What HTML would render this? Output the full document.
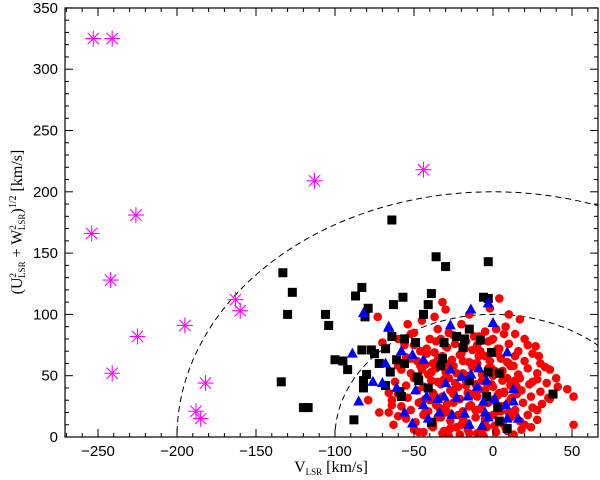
<!DOCTYPE html>
<html><head><meta charset="utf-8"><style>
html,body{margin:0;padding:0;background:#fff;width:600px;height:480px;overflow:hidden;position:relative;}
svg{display:block;position:absolute;left:0;top:0;}
.tk{font-family:"Liberation Sans",sans-serif;font-size:15px;fill:#000;}
.tt{font-family:"Liberation Serif",serif;font-size:16px;fill:#000;}
</style></head><body>
<svg id="chart" width="600" height="480" viewBox="0 0 600 480" xmlns="http://www.w3.org/2000/svg" overflow="hidden">
<defs><clipPath id="pc"><rect x="65" y="8" width="533" height="429"/></clipPath></defs>
<g id="plot" clip-path="url(#pc)"></g>
<rect x="65" y="8" width="533" height="429" fill="none" stroke="#000" stroke-width="1.2"/>
<g id="axes"></g>
<text class="tt" x="331" y="472" text-anchor="middle">V<tspan font-size="9" dy="3">LSR</tspan><tspan dy="-3"> [km/s]</tspan></text>
<text class="tt" transform="translate(22,222) rotate(-90)" text-anchor="middle">(U<tspan font-size="9" dy="-6">2</tspan><tspan font-size="9" dx="-5" dy="9">LSR</tspan><tspan dy="-3"> + W</tspan><tspan font-size="9" dy="-6">2</tspan><tspan font-size="9" dx="-5" dy="9">LSR</tspan><tspan dy="-3">)</tspan><tspan font-size="10" dy="-6">1/2</tspan><tspan dy="6"> [km/s]</tspan></text>
</svg>
<script>
const xTicks=[-250,-200,-150,-100,-50,0,50];
const yTicks=[0,50,100,150,200,250,300,350];
const circleRadii=[100,200];
const haloV=[-253,-241,-226,-254,-242,-225,-241,-195,-163,-160,-182,-188,-185,-113,-44];
const haloY=[325,325,181,166,128,82,52,91,112,103,44,21,15,209,218];
const thickV=[-64,-36,-30,-3,-83,-87,-79,-63,-57,-39,-41,-44,-6,-3,-106,-104,-81,-15,-8,-64,-56,-49,-23,-18,-31,-19,-1,-83,-77,-68,-75,-100,-95,-92,-72,-61,-56,-32,-33,-80,-65,-48,-47,-82,-82,-68,-41,-59,-58,-15,-3,4,-4,38,3,4,9,-88,-120,-117,-39,-133,-127,-130,-134];
const thickY=[177,147,139,143,122,115,105,108,114,117,108,100,114,113,100,91,98,88,79,82,80,77,82,80,77,73,69,71,71,72,68,63,62,55,60,63,60,64,58,51,53,49,46,46,40,42,40,37,33,46,53,52,33,35,24,13,7,14,24,24,12,134,118,100,45];
const transV=[-82,-14,-3,-66,-27,0,-89,-58,-51,-44,9,-68,-27,-14,-9,-4,-20,-76,-70,-61,-49,-30,-10,13,-85,-42,-35,-31,-23,-16,-6,1,8,13,-56,-44,-34,-26,-18,-5,-3,-41,-51,-15,-7,9,16,-66];
const transY=[101,104,109,90,91,93,68,70,67,63,69,60,55,51,56,46,49,45,44,40,38,44,41,39,29,33,31,33,32,33,29,31,26,29,20,26,20,18,19,20,16,15,11,10,9,15,15,89];
const thinV=[4,17,27,29,36,47,51,51,41,36,28,-73,-70,-79,-72,-66,-63,-32,-30,-37,-64,
-35,-28,-20,-12,-5,8,14,-40,0,20,
-50,-42,-36,-30,-24,-18,-10,-3,4,10,16,22,-46,
-55,-48,-42,-38,-32,-26,-20,-15,-9,-2,3,9,14,20,25,30,
-58,-52,-46,-41,-36,-30,-25,-19,-13,-7,-1,5,11,16,22,28,33,-60,
-62,-55,-50,-44,-39,-33,-28,-22,-17,-11,-6,0,6,11,17,23,28,34,40,
-60,-54,-48,-43,-38,-32,-27,-21,-16,-10,-5,1,7,12,18,24,30,35,-66,
-58,-52,-47,-41,-36,-30,-25,-19,-14,-8,-3,3,8,14,19,25,31,-64,
-55,-49,-44,-38,-33,-27,-22,-16,-11,-5,0,6,11,17,22,28,-60,
-50,-44,-38,-32,-27,-21,-16,-10,-4,2,8,13,18,24,-28,-6,
-45,-35,-25,-15,-5,5,15,25,-30,-20,-10,0,10,20,-40,-30,-20,0,10,-10,-24,-14,-4,6,-34,4,14,-8,2,-45,-52,-15,-60,10,-2,
-47,-39,-31,-23,-15,-7,1,9,-43,-35,-27,-19,-11,-3,5,13,-45,-37,-29,-21,-13,-5,3,11,-41,-33,-25,-17,-9,-1,7,15,-47,-39,-31,-23,-15,-7,1,9,-43,-35,-27,-19,-11,-3,5,13,-37,-29,-21,-13,-5,3,-33,-25,-17,-9,-1,7,-52,-56,-50,-54];
const thinY=[113,96,74,66,55,39,33,10,41,31,22,98,77,30,20,20,10,110,104,98,30,
88,85,92,82,86,90,84,80,80,80,
75,72,78,74,76,72,75,78,72,76,70,75,70,
65,62,68,60,66,63,68,61,66,62,68,61,66,62,68,60,
55,52,58,51,56,53,58,52,57,51,56,52,58,51,56,52,57,58,
45,42,48,41,46,43,48,41,46,43,48,41,46,42,48,43,47,44,48,
35,32,38,31,36,33,38,31,36,33,38,31,36,32,38,33,37,32,36,
25,22,28,21,26,23,28,21,26,23,28,21,26,22,28,24,27,26,
15,12,18,11,16,13,18,11,16,13,18,11,16,13,18,14,17,
6,4,8,3,7,2,6,3,8,4,7,2,6,8,1,1,
55,45,35,25,15,25,35,45,60,50,40,30,20,10,30,20,10,50,60,60,44,34,44,54,24,36,46,70,88,95,84,100,80,100,105,
4,9,5,8,3,6,9,5,20,16,19,15,22,17,21,18,29,33,27,31,35,28,34,30,40,44,38,42,39,43,37,41,49,53,47,52,50,46,54,48,59,63,57,62,60,56,64,58,69,73,67,71,66,72,80,83,78,82,79,84,64,75,85,92];

const NS='http://www.w3.org/2000/svg';
const X=v=>493+1.58*v, Y=u=>437-1.226*u;
const plot=document.getElementById('plot'), axes=document.getElementById('axes');
function mk(tag,attrs,parent){const e=document.createElementNS(NS,tag);for(const k in attrs)e.setAttribute(k,attrs[k]);parent.appendChild(e);return e;}

circleRadii.forEach(r=>{
  const e=mk('ellipse',{cx:X(0),cy:Y(0),rx:1.58*r,ry:1.226*r,fill:'none',stroke:'#000','stroke-width':1,'stroke-dasharray':'6,4'},plot);
  
  
});
thinV.forEach((v,i)=>{
  const e=mk('circle',{cx:X(v),cy:Y(thinY[i]),r:4.3,fill:'#f00'},plot);
  
  
});
thickV.forEach((v,i)=>{
  const x=X(v),y=Y(thickY[i]);
  const e=mk('rect',{x:x-4.5,y:y-4.5,width:9,height:9,fill:'#000'},plot);
  
  
});
transV.forEach((v,i)=>{
  const x=X(v),y=Y(transY[i]);
  const e=mk('polygon',{points:`${x},${y-6} ${x-5.5},${y+4} ${x+5.5},${y+4}`,fill:'#00f'},plot);
  
  
});
haloV.forEach((v,i)=>{
  const x=X(v),y=Y(haloY[i]);
  const g=mk('g',{stroke:'#f0f','stroke-width':1.1},plot);
  
  
  for(let a=0;a<4;a++){const t=a*Math.PI/4;mk('line',{x1:x-8*Math.cos(t),y1:y-8*Math.sin(t),x2:x+8*Math.cos(t),y2:y+8*Math.sin(t)},g);}
});
for(let v=-270;v<=66;v+=10){
  const maj=v%50===0, L=maj?8:4, x=X(v);
  mk('line',{x1:x,y1:437,x2:x,y2:437-L,stroke:'#000'},axes);
  mk('line',{x1:x,y1:8,x2:x,y2:8+L,stroke:'#000'},axes);
}
for(let u=0;u<=350;u+=10){
  const maj=u%50===0, L=maj?8:4, y=Y(u);
  mk('line',{x1:65,y1:y,x2:65+L,y2:y,stroke:'#000'},axes);
  mk('line',{x1:598,y1:y,x2:598-L,y2:y,stroke:'#000'},axes);
}
xTicks.forEach(v=>{
  const t=mk('text',{x:X(v),y:456,'text-anchor':'middle',class:'tk'},axes);
  t.textContent=(v<0?'\u2212':'')+Math.abs(v);
  
  
});
yTicks.forEach(u=>{
  const t=mk('text',{x:58,y:Y(u)+5,'text-anchor':'end',class:'tk'},axes);
  t.textContent=u;
  
  
});
</script>
</body></html>
